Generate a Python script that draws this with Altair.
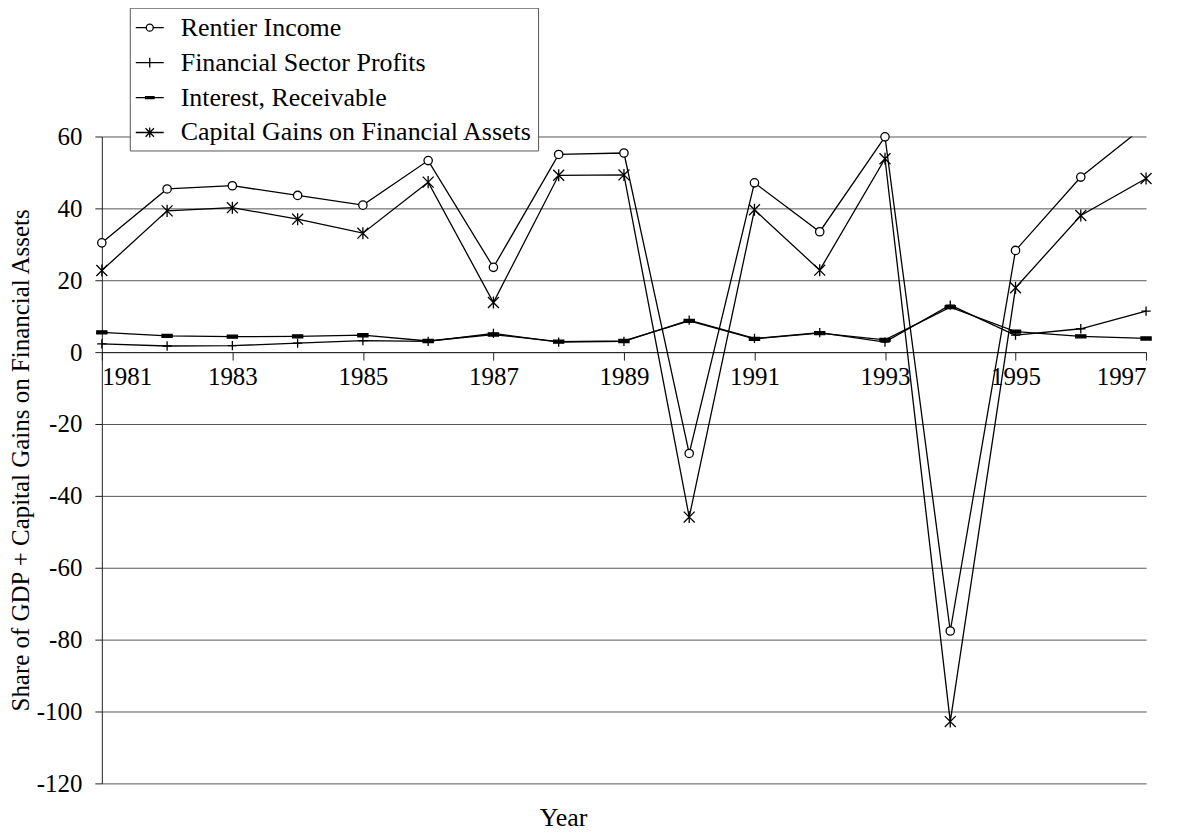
import altair as alt
import pandas as pd

years = list(range(1981, 1998))
rentier = [30.4, 45.4, 46.3, 43.6, 40.9, 53.3, 23.6, 55.0, 55.4, -28.2, 47.1, 33.5, 59.9, -77.6, 28.3, 48.7, 63.2]
fin_profits = [2.3, 1.7, 1.8, 2.5, 3.2, 3.0, 5.2, 2.8, 3.0, 8.9, 3.8, 5.4, 2.8, 13.1, 4.7, 6.5, 11.4]
interest = [5.5, 4.5, 4.3, 4.4, 4.7, 3.1, 4.9, 2.9, 3.1, 8.7, 3.7, 5.3, 3.4, 12.5, 5.7, 4.4, 3.8]
capital = [22.7, 39.3, 40.2, 37.0, 33.1, 47.3, 13.8, 49.2, 49.3, -45.9, 39.6, 22.8, 53.8, -102.8, 17.9, 38.0, 48.3]

series_names = ["Rentier Income", "Financial Sector Profits",
                "Interest, Receivable", "Capital Gains on Financial Assets"]
year_labels = list(range(1981, 1998, 2))
y_ticks = list(range(-120, 61, 20))

rows = []
for name, vals in zip(series_names, [rentier, fin_profits, interest, capital]):
    for yr, v in zip(years, vals):
        rows.append({"year": yr, "value": v, "series": name})
df = pd.DataFrame(rows)

FONT = "Liberation Serif"

point_shapes = [
    "circle",
    "M-1,0L1,0M0,-1L0,1",
    "M-1,-0.3L1,-0.3L1,0.3L-1,0.3Z",
    "M-1,-1L1,1M-1,1L1,-1M0,-1.1L0,1.1",
]
legend_shapes = [
    "M-1,0L-0.25,0M0.25,0L1,0M-0.25,0A0.25,0.25,0,1,1,0.25,0A0.25,0.25,0,1,1,-0.25,0",
    "M-1,0L1,0M0,-0.35L0,0.35",
    "M-1,0L1,0M-0.3,-0.07L0.3,-0.07L0.3,0.07L-0.3,0.07Z",
    "M-1,0L1,0M-0.3,-0.3L0.3,0.3M-0.3,0.3L0.3,-0.3M0,-0.35L0,0.35",
]

x_enc = alt.X(
    "year:Q",
    scale=alt.Scale(domain=[1981, 1997], nice=False, zero=False),
    axis=alt.Axis(
        values=year_labels, format="d", offset=-432, tickSize=8,
        labelPadding=4, grid=False, title="Year",
        titleX=462, titleY=466, titleBaseline="middle", titleAlign="center",
        titleFontWeight="normal",
    ),
)
y_enc = alt.Y(
    "value:Q",
    scale=alt.Scale(domain=[-120, 60], nice=False, zero=False),
    axis=alt.Axis(
        values=y_ticks, grid=True, tickSize=7, labelPadding=13,
        labelExpr="replace(datum.label, '\u2212', '-')",
        title="Share of GDP + Capital Gains on Financial Assets",
        titleX=-73, titleY=324, titleBaseline="alphabetic", titleAlign="center",
        titleFontWeight="normal", titleFontSize=25,
    ),
)

base = alt.Chart(df)

lines = base.mark_line(color="black", strokeWidth=1.3, clip=True).encode(
    x=x_enc, y=y_enc, detail="series:N"
)

points = base.transform_filter("datum.value <= 60").mark_point(
    stroke="black", strokeWidth=1.3, opacity=1
).encode(
    x=x_enc, y=y_enc,
    shape=alt.Shape("series:N", scale=alt.Scale(domain=series_names, range=point_shapes), legend=None),
    fill=alt.Fill("series:N", scale=alt.Scale(domain=series_names,
                  range=["white", "transparent", "black", "transparent"]), legend=None),
    size=alt.Size("series:O", scale=alt.Scale(domain=series_names, range=[70, 120, 90, 110]), legend=None),
)

legend_layer = base.transform_filter("false").mark_point(
    filled=False, stroke="black", strokeWidth=1.3, size=784, opacity=1
).encode(
    x=x_enc, y=y_enc,
    shape=alt.Shape(
        "series:N",
        scale=alt.Scale(domain=series_names, range=legend_shapes),
        legend=alt.Legend(
            title=None, orient="none", legendX=28, legendY=-129,
            fillColor="white", strokeColor="#555", padding=5, rowPadding=7,
            labelFont=FONT, labelFontSize=26, labelColor="black", labelOffset=16,
            symbolSize=784, symbolStrokeColor="black", symbolFillColor="transparent",
            symbolStrokeWidth=1.3, symbolOpacity=1, labelLimit=0,
        ),
    ),
)

chart = alt.layer(lines, points, legend_layer).resolve_scale(
    shape="independent"
).properties(
    width=1046, height=648,
    autosize=alt.AutoSizeParams(type="none"),
    padding={"left": 94, "top": 128, "right": 29, "bottom": 48},
).configure_view(stroke=None).configure_axis(
    labelFont=FONT, labelFontSize=25, labelColor="black",
    titleFont=FONT, titleFontSize=26, titleColor="black",
    domainColor="#222", domainWidth=1, tickColor="#222", tickWidth=1,
    gridColor="#555", gridWidth=1, gridOpacity=1,
)

chart.save("out.html", embed_options={"renderer": "svg", "actions": False})
